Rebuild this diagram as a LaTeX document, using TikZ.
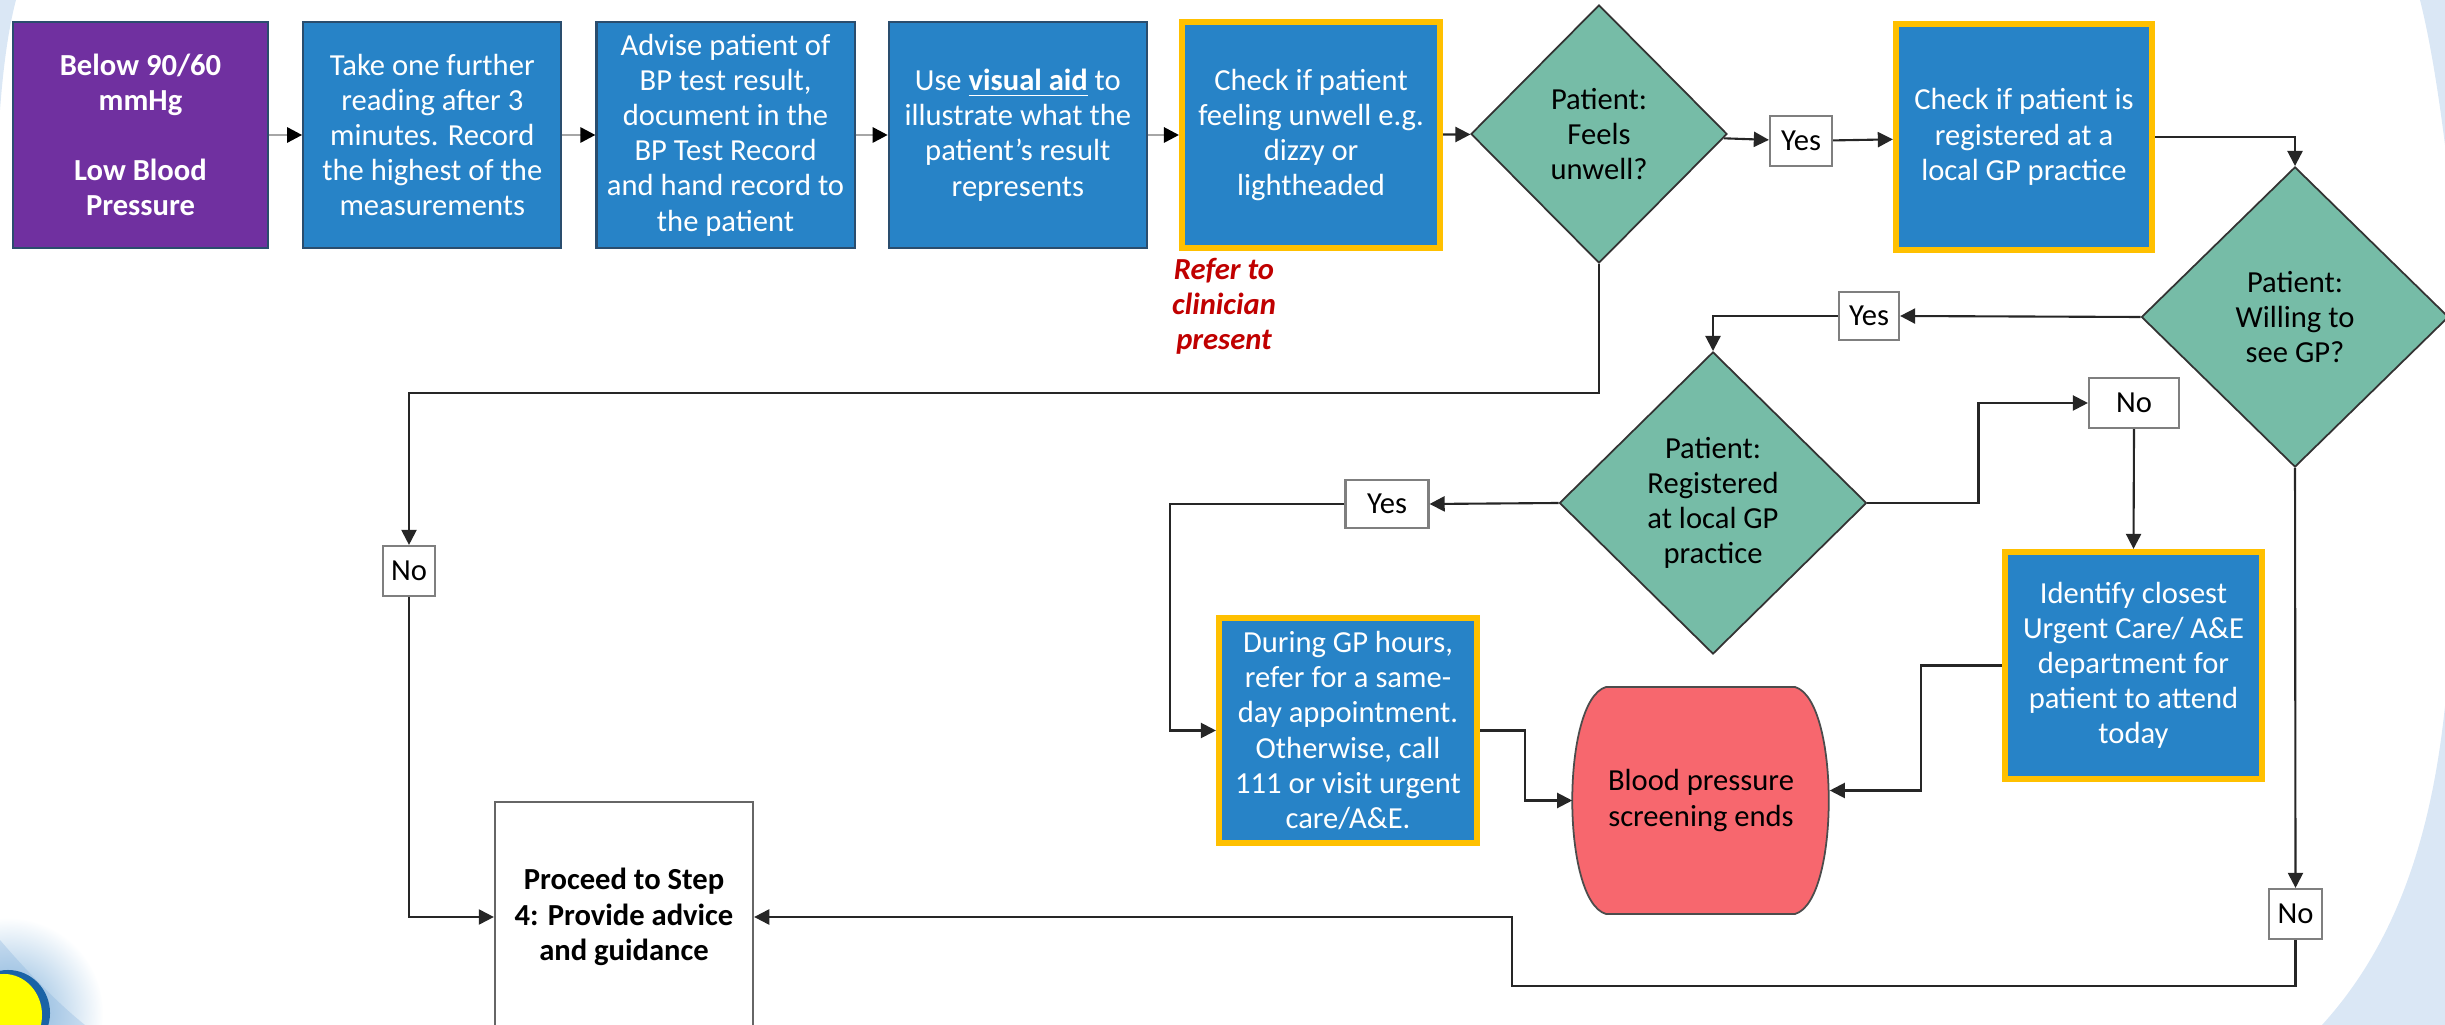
\documentclass[tikz,border=0pt]{standalone}
\usepackage{fontspec}
\setmainfont{Carlito}
\usetikzlibrary{arrows.meta,positioning,shapes.geometric,fadings}
\definecolor{lowPurple}{HTML}{7030A0}
\definecolor{stepBlue}{HTML}{2783C7}
\definecolor{stepEdge}{HTML}{2A4D6E}
\definecolor{amberEdge}{HTML}{FFC000}
\definecolor{sageGreen}{HTML}{76BCA7}
\definecolor{alertRed}{HTML}{F7676E}
\definecolor{noteRed}{HTML}{C00000}
\definecolor{cloudBlue}{HTML}{DAE7F5}
\definecolor{haloBlue}{HTML}{7FB0DA}
\definecolor{ringBlue}{HTML}{1A63A6}
\definecolor{sunYellow}{HTML}{FFFF00}
\definecolor{labelGrey}{HTML}{7F7F7F}
\tikzfading[name=glow, inner color=transparent!0, outer color=transparent!100]

\begin{document}
\begin{tikzpicture}[x=0.01cm, y=-0.01cm, >={Triangle[length=4.3pt, width=4.3pt]},
    every node/.style={font=\fontsize{8.7}{10}\selectfont, align=center},
    stepbox/.style={rectangle, draw=stepEdge, line width=0.6pt, fill=stepBlue, text=white,
      minimum width=2.58cm, minimum height=2.26cm, inner sep=0pt},
    keybox/.style={stepbox, draw=amberEdge, line width=1.7pt},
    decision/.style={diamond, draw=black!80, line width=0.5pt, fill=sageGreen, inner sep=0pt},
    answer/.style={rectangle, draw=labelGrey, line width=0.6pt, fill=white, minimum height=0.5cm, inner sep=0pt},
    link/.style={->, draw=black!85, line width=0.6pt},
    feed/.style={-{Triangle[length=4.3pt, width=4.3pt, color=black]}, draw=black!35, line width=0.8pt}]
  % Fondo
  \useasboundingbox (0,0) rectangle (2445,1025);
  \fill[cloudBlue] (0,0) -- (16,0) .. controls (8,30) and (3,70) .. (0,110) -- cycle;
  \fill[cloudBlue] (2420,0) -- (2445,0) -- (2445,145) .. controls (2438,90) and (2430,40) .. (2420,0);
  \fill[cloudBlue] (2445,706) .. controls (2430,850) and (2390,950) .. (2322,1025) -- (2445,1025) -- cycle;
  \fill[cloudBlue] (0,940) .. controls (30,975) and (60,1005) .. (85,1025) -- (0,1025) -- cycle;
  \fill[haloBlue, path fading=glow] (8,1013) circle (0.95cm);
  \fill[ringBlue] (8,1013) ellipse [x radius=0.42cm, y radius=0.43cm];
  \fill[sunYellow] (4,1015) ellipse [x radius=0.38cm, y radius=0.41cm];

  % Fila superior
  \node[stepbox, fill=lowPurple, minimum width=2.55cm, font=\fontsize{8.7}{10}\selectfont\bfseries] (low) at (140.5,135) {Below 90/60\\mmHg\\[10pt]Low Blood\\Pressure};
  \node[stepbox, right=0.33cm of low] (take) {Take one further\\reading after 3\\minutes. Record\\the highest of the\\measurements};
  \node[stepbox, right=0.33cm of take] (advise) {Advise patient of\\BP test result,\\document in the\\BP Test Record\\and hand record to\\the patient};
  \node[stepbox, right=0.32cm of advise] (visual) {Use \textbf{\underline{visual aid}} to\\illustrate what the\\patient’s result\\represents};
  \node[keybox, right=0.31cm of visual] (unwell) {Check if patient\\feeling unwell e.g.\\dizzy or\\lightheaded};
  \node[text=noteRed, font=\fontsize{8.7}{10}\selectfont\bfseries\itshape] (clin) at (1224,306) {Refer to\\clinician\\present};

  % Decisiones
  \node[decision, minimum width=2.56cm, minimum height=2.58cm] (feels) at (1599,134) {Patient:\\Feels\\unwell?};
  \node[answer, minimum width=0.62cm] (yesA) at (1801,141) {Yes};
  \node[keybox, minimum width=2.56cm, minimum height=2.25cm] (chkreg) at (2024,137) {Check if patient is\\registered at a\\local GP practice};
  \node[decision, minimum width=3.07cm, minimum height=3.0cm] (willing) at (2295,317) {Patient:\\Willing to\\see GP?};
  \node[answer, minimum width=0.60cm, minimum height=0.48cm] (yesB) at (1869,316) {Yes};
  \node[decision, minimum width=3.07cm, minimum height=3.02cm] (regd) at (1713,503) {Patient:\\Registered\\at local GP\\practice};
  \node[answer, minimum width=0.90cm] (noB) at (2134,403) {No};
  \node[answer, minimum width=0.83cm, minimum height=0.48cm] (yesC) at (1387,504) {Yes};
  \node[answer, minimum width=0.52cm] (noA) at (409,571) {No};
  \node[answer, minimum width=0.53cm] (noC) at (2295.5,914) {No};

  % Acciones finales
  \node[keybox, minimum width=2.57cm, minimum height=2.27cm] (ident) at (2133.5,665.5) {Identify closest\\Urgent Care/ A\&E\\department for\\patient to attend\\today};
  \node[keybox, minimum height=2.25cm] (during) at (1348,730.5) {During GP hours,\\refer for a same-\\day appointment.\\Otherwise, call\\111 or visit urgent\\care/A\&E.};
  \filldraw[fill=alertRed, draw=black!70, line width=0.5pt] (1606,687) -- (1795,687)
    .. controls (1840,700) and (1840,901) .. (1795,914) -- (1606,914)
    .. controls (1561,901) and (1561,700) .. (1606,687) -- cycle;
  \node[minimum width=2.56cm, minimum height=2.27cm, inner sep=0pt] (ends) at (1701,800.5) {Blood pressure\\screening ends};
  \node[answer, draw=black!60, minimum width=2.58cm, minimum height=2.30cm, font=\fontsize{8.7}{10}\selectfont\bfseries] (proceed) at (624,917) {Proceed to Step\\4: Provide advice\\and guidance};
  \coordinate (turnA) at (1512,986);

  % Conexiones
  \draw[feed] (low) -- (take);
  \draw[feed] (take) -- (advise);
  \draw[feed] (advise) -- (visual);
  \draw[feed] (visual) -- (unwell);
  \draw[link] (unwell) -- (feels);
  \draw[link] (feels) -- (yesA);
  \draw[link] (yesA) -- (chkreg);
  \draw[link] (chkreg.east) -| (willing.north);
  \draw[link] (willing.west) -- (yesB.east);
  \draw[link] (yesB.west) -| (regd.north);
  \draw[link] (regd.east) -- ++(111,0) |- (noB.west);
  \draw[link] (noB.south) -- (ident.north);
  \draw[link] (ident.west) -- ++(-81,0) |- ([yshift=0.1cm]ends.east);
  \draw[link] (regd.west) -- (yesC.east);
  \draw[link] (yesC.west) -- ++(-174,0) |- (during.west);
  \draw[link] (during.east) -- ++(45,0) |- (ends.west);
  \draw[link] (willing.south) -- (noC.north);
  \draw[link] (noC.south) |- (turnA) |- (proceed.east);
  \draw[link] (feels.south) -- ++(0,129) -| (noA.north);
  \draw[link] (noA.south) |- (proceed.west);
\end{tikzpicture}
\end{document}
